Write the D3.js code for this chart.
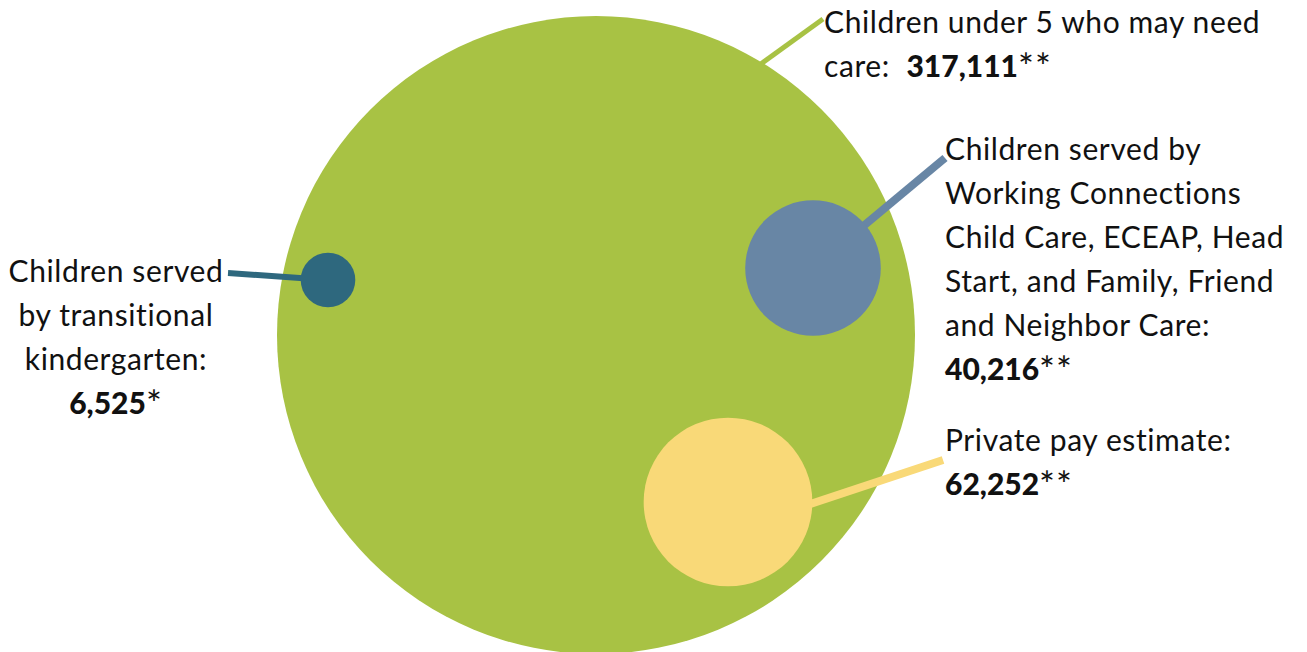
<!DOCTYPE html>
<html>
<head>
<meta charset="utf-8">
<script src="https://cdn.jsdelivr.net/npm/d3@7"></script>
<style>
  body { margin: 0; background: #fff; }
  text { font-family: Lato, "Open Sans", sans-serif; fill: #111; letter-spacing: 0.6px; }
  .num { font-weight: 900; letter-spacing: 0; }
  .mark { font-size: 1.25em; letter-spacing: 1px; }
</style>
</head>
<body>
<div id="chart"></div>
<script>
/* values */
var totalLabel = ["Children under 5 who may need", "care:"];
var totalValue = 317111;
var totalMark = "**";

var groupNames = ["transitional", "wccc", "private"];
var groupLabels = [
  ["Children served", "by transitional", "kindergarten:"],
  ["Children served by", "Working Connections", "Child Care, ECEAP, Head", "Start, and Family, Friend", "and Neighbor Care:"],
  ["Private pay estimate:"]
];
var groupValues = [6525, 40216, 62252];
var groupMarks = ["*", "**", "**"];
var groupColors = ["#2e687e", "#6886a5", "#f9d978"];

var W = 1307, H = 652;
var fmt = d3.format(",");

var svg = d3.select("#chart").append("svg").attr("width", W).attr("height", H);

/* layout */
var big = { cx: 596, cy: 335, r: 319, color: "#a8c244" };
var centers = [[328, 280], [813, 268], [728, 502]];
var anchors = [[228, 273], [945, 158], [943, 460]];
var lineW = [6, 8, 8];
var lineH = 44;

var rScale = d3.scaleSqrt()
  .domain([0, d3.max(groupValues)])
  .range([0, 0.338 * Math.sqrt(d3.max(groupValues))]);

var groups = groupValues.map(function (v, i) {
  return {
    name: groupNames[i], value: v, mark: groupMarks[i], lines: groupLabels[i],
    color: groupColors[i], cx: centers[i][0], cy: centers[i][1], r: rScale(v),
    ax: anchors[i][0], ay: anchors[i][1], lw: lineW[i]
  };
});

/* big circle */
svg.append("circle")
  .attr("cx", big.cx).attr("cy", big.cy).attr("r", big.r)
  .attr("fill", big.color);

/* big leader */
var bigAng = Math.atan2(-272, 166);
svg.append("line")
  .attr("x1", big.cx + big.r * Math.cos(bigAng) - 1)
  .attr("y1", big.cy + big.r * Math.sin(bigAng) + 1)
  .attr("x2", 823).attr("y2", 19)
  .attr("stroke", big.color).attr("stroke-width", 5);

/* leader lines go to the circle centers, circles cover them */
svg.selectAll("line.lead").data(groups).enter()
  .append("line")
  .attr("class", "lead")
  .attr("x1", d => d.ax).attr("y1", d => d.ay)
  .attr("x2", function (d) { return d.name == "private" ? d.cx + d.r - 2 : d.cx; })
  .attr("y2", function (d) { return d.name == "private" ? d.cy + 2 : d.cy; })
  .attr("stroke", d => d.color)
  .attr("stroke-width", d => d.lw);

svg.selectAll("circle.grp").data(groups).enter()
  .append("circle")
  .attr("class", "grp")
  .attr("cx", d => d.cx).attr("cy", d => d.cy).attr("r", d => d.r)
  .attr("fill", d => d.color);

/* labels */
var fs = 30;

var topLbl = svg.append("text").attr("x", 824).attr("y", 33).style("font-size", fs + "px");
topLbl.append("tspan").attr("x", 824).text(totalLabel[0]);
topLbl.append("tspan").attr("x", 824).attr("dy", lineH).text(totalLabel[1] + "\u00a0\u00a0");
topLbl.append("tspan").attr("class", "num").text(fmt(totalValue));
topLbl.append("tspan").attr("class", "mark").attr("dy", 3).text(totalMark);

var labelPos = [
  { x: 116, y: 282, anchor: "middle" },
  { x: 945, y: 160, anchor: "start" },
  { x: 945, y: 451, anchor: "start" }
];

groups.forEach(function (d, i) {
  var p = labelPos[i];
  var t = svg.append("text")
    .attr("x", p.x).attr("y", p.y)
    .attr("text-anchor", p.anchor)
    .style("font-size", fs + "px");
  d.lines.forEach(function (ln, j) {
    t.append("tspan").attr("x", p.x).attr("dy", j == 0 ? 0 : lineH).text(ln);
  });
  t.append("tspan").attr("x", p.x).attr("dy", lineH).attr("class", "num").text(fmt(d.value));
  t.append("tspan").attr("class", "mark").attr("dy", 3).text(d.mark);
});
</script>
</body>
</html>
